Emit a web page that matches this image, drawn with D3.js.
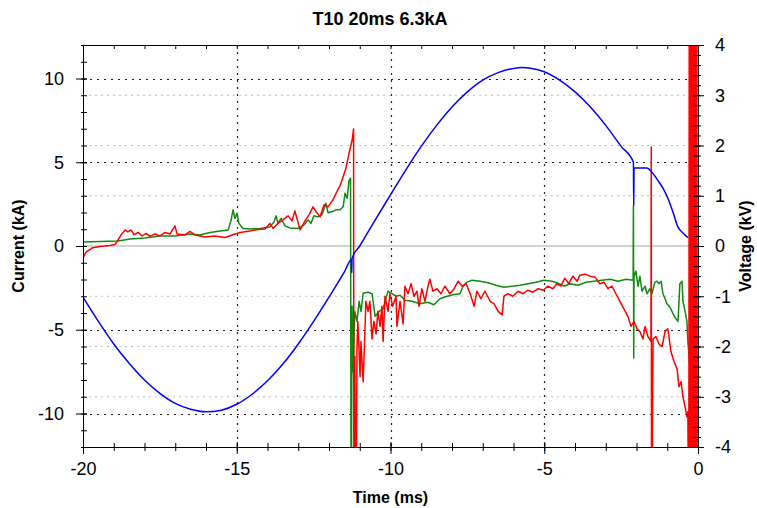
<!DOCTYPE html>
<html>
<head>
<meta charset="utf-8">
<script src="https://cdn.jsdelivr.net/npm/d3@7"></script>
<style>
  body { margin: 0; background: #fff; }
  svg { display: block; font-family: Arial, "Liberation Sans", sans-serif; }
</style>
</head>
<body>
<svg id="chart" width="757" height="508"></svg>
<script>
// tick values
const timeTicks = [-20, -15, -10, -5, 0];
const currentTicks = [-10, -5, 0, 5, 10];
const voltageTicks = [-4, -3, -2, -1, 0, 1, 2, 3, 4];

// blue trace: current (kA)
const blueTime = [-20, -19.5, -19, -18.5, -18, -17.5, -17, -16.5, -16, -15.5,
  -15, -14.5, -14, -13.5, -13, -12.5, -12, -11.5, -11.27, -11.26,
  -11.25, -11, -10.5, -10, -9.5, -9, -8.5, -8, -7.5, -7,
  -6.5, -6, -5.7, -5.5, -5, -4.5, -4, -3.5, -3, -2.5,
  -2.1, -2.09, -2.08, -1.66, -1.5, -1.3, -1.14, -0.98, -0.81, -0.65,
  -0.52, -0.33];
const blueCurrent = [-3.05, -4.5, -5.85, -7.0, -8.0, -8.8, -9.4, -9.75, -9.9, -9.8,
  -9.45, -8.85, -8.05, -7.05, -5.85, -4.5, -3.05, -1.55, -0.8, -1.6,
  -0.75, 0.0, 1.55, 3.05, 4.55, 5.95, 7.2, 8.3, 9.2, 9.9,
  10.35, 10.6, 10.65, 10.62, 10.4, 9.9, 9.2, 8.3, 7.2, 5.95,
  5.0, 2.4, 4.65, 4.65, 4.4, 3.9, 3.45, 2.85, 2.0, 1.13,
  0.83, 0.5];

// green trace: voltage (kV)
const greenTime = [-20, -19.45, -18.86, -18.47, -17.98, -17.5, -17.01, -16.52, -16.2, -15.87,
  -15.54, -15.28, -15.19, -15.12, -15.06, -14.99, -14.93, -14.8, -14.57, -14.24,
  -13.92, -13.79, -13.72, -13.66, -13.56, -13.43, -13.27, -13.01, -12.81, -12.68,
  -12.59, -12.49, -12.36, -12.23, -12.1, -12.03, -11.9, -11.77, -11.64, -11.54,
  -11.48, -11.41, -11.35, -11.3, -11.28, -11.25, -11.22, -11.16, -11.09, -11.02,
  -10.96, -10.89, -10.73, -10.6, -10.5, -10.37, -10.24, -10.15, -10.08, -9.95,
  -9.82, -9.69, -9.53, -9.3, -9.04, -8.78, -8.59, -8.39, -8.16, -7.97,
  -7.74, -7.64, -7.51, -7.35, -7.09, -6.83, -6.57, -6.31, -6.05, -5.79,
  -5.53, -5.27, -5.01, -4.75, -4.55, -4.36, -4.16, -3.9, -3.64, -3.38,
  -3.12, -2.86, -2.6, -2.34, -2.11, -2.1, -2.09, -2.08, -2.02, -1.95,
  -1.89, -1.82, -1.72, -1.66, -1.56, -1.5, -1.4, -1.33, -1.27, -1.2,
  -1.14, -1.07, -1.01, -0.91, -0.81, -0.72, -0.65, -0.59, -0.52, -0.49,
  -0.42, -0.36, -0.33, -0.26];
const greenVoltage = [0.08, 0.09, 0.1, 0.14, 0.16, 0.2, 0.2, 0.24, 0.22, 0.27,
  0.3, 0.32, 0.5, 0.72, 0.55, 0.65, 0.45, 0.35, 0.34, 0.35,
  0.38, 0.48, 0.6, 0.45, 0.55, 0.4, 0.36, 0.35, 0.42, 0.52,
  0.45, 0.6, 0.58, 0.62, 0.85, 0.66, 0.68, 0.72, 0.72, 0.78,
  1.05, 0.95, 1.3, 1.35, -6, -1.2, -2.5, -1.3, -1.5, -1.1,
  -1.3, -0.94, -0.92, -0.95, -1.4, -1.3, -1.25, -1.05, -0.9, -0.95,
  -1.0, -0.98, -1.08, -1.1, -1.15, -1.12, -1.17, -1.05, -1.0, -0.97,
  -0.95, -0.8, -0.72, -0.68, -0.7, -0.73, -0.78, -0.82, -0.8, -0.78,
  -0.75, -0.72, -0.68, -0.7, -0.74, -0.8, -0.75, -0.78, -0.72, -0.7,
  -0.68, -0.66, -0.7, -0.66, -0.68, 0.8, -2.23, -0.6, -0.5, -0.8,
  -0.6, -0.9, -0.8, -0.95, -0.85, -0.95, -0.72, -0.7, -0.75, -0.7,
  -0.95, -1.05, -1.15, -1.22, -1.35, -1.45, -1.5, -0.75, -0.7, -1.1,
  -1.3, -1.5, -1.9, -2.42];

// red trace: voltage (kV)
const redTime = [-20, -19.9, -19.71, -19.45, -19.12, -18.96, -18.86, -18.73, -18.63, -18.54,
  -18.44, -18.34, -18.21, -18.08, -17.95, -17.82, -17.66, -17.5, -17.33, -17.17,
  -17.01, -16.94, -16.68, -16.52, -16.36, -16.03, -15.71, -15.38, -15.15, -14.89,
  -14.57, -14.31, -14.08, -13.92, -13.82, -13.66, -13.5, -13.33, -13.2, -13.11,
  -12.94, -12.78, -12.65, -12.52, -12.42, -12.29, -12.16, -12.03, -11.87, -11.77,
  -11.64, -11.54, -11.45, -11.38, -11.32, -11.25, -11.2, -11.19, -11.16, -11.12,
  -11.09, -11.06, -10.99, -10.96, -10.89, -10.86, -10.8, -10.73, -10.67, -10.6,
  -10.54, -10.47, -10.41, -10.34, -10.28, -10.24, -10.18, -10.08, -10.02, -9.93,
  -9.82, -9.79, -9.69, -9.59, -9.53, -9.43, -9.33, -9.24, -9.14, -9.07,
  -8.98, -8.88, -8.78, -8.72, -8.62, -8.49, -8.36, -8.23, -8.07, -7.93,
  -7.8, -7.67, -7.54, -7.41, -7.28, -7.19, -7.06, -6.93, -6.76, -6.63,
  -6.5, -6.37, -6.31, -6.18, -6.02, -5.85, -5.69, -5.53, -5.37, -5.2,
  -5.04, -4.88, -4.72, -4.59, -4.46, -4.33, -4.2, -4.07, -3.93, -3.84,
  -3.67, -3.51, -3.35, -3.19, -3.06, -2.93, -2.8, -2.67, -2.54, -2.41,
  -2.28, -2.18, -2.08, -1.98, -1.89, -1.79, -1.72, -1.63, -1.53, -1.52,
  -1.51, -1.46, -1.37, -1.27, -1.17, -1.07, -0.98, -0.88, -0.78, -0.68,
  -0.62, -0.55, -0.49, -0.42, -0.36, -0.33, -0.3, -0.28, -0.25, -0.22,
  -0.19, -0.16, -0.13, -0.1, -0.07, -0.04, -0.02];
const redVoltage = [-0.24, -0.12, -0.04, -0.01, 0.01, 0.03, 0.12, 0.25, 0.32, 0.28,
  0.32, 0.22, 0.27, 0.2, 0.25, 0.19, 0.24, 0.2, 0.27, 0.24,
  0.4, 0.24, 0.22, 0.29, 0.22, 0.18, 0.2, 0.17, 0.22, 0.27,
  0.3, 0.33, 0.34, 0.45, 0.35, 0.45, 0.52, 0.6, 0.5, 0.7,
  0.32, 0.5, 0.62, 0.78, 0.68, 0.58, 0.82, 0.78, 0.92, 1.05,
  1.2, 1.38, 1.55, 1.75, 1.92, 2.1, 2.33, -6, -2.2, -6,
  -2.0, -1.5, -2.6, -1.9, -2.7, -2.2, -1.1, -1.3, -1.1, -1.85,
  -1.5, -1.75, -1.3, -1.6, -1.2, -1.9, -1.0, -1.3, -0.95, -1.2,
  -1.0, -1.6, -1.1, -1.55, -0.8, -0.95, -0.75, -1.0, -0.9, -1.2,
  -0.85, -1.1, -0.8, -0.66, -0.9, -0.85, -0.95, -0.8, -0.95, -0.85,
  -0.7, -0.8, -0.75, -0.95, -1.2, -0.9, -1.05, -0.9, -1.1, -1.15,
  -1.3, -1.37, -1.0, -0.95, -1.0, -0.9, -0.95, -0.88, -0.92, -0.85,
  -0.88, -0.8, -0.85, -0.75, -0.8, -0.64, -0.75, -0.6, -0.7, -0.58,
  -0.56, -0.6, -0.62, -0.75, -0.72, -0.85, -0.8, -0.95, -1.1, -1.25,
  -1.4, -1.6, -1.5, -1.65, -1.7, -1.85, -1.6, -1.8, -1.9, 1.97,
  -6, -1.85, -1.8, -1.95, -2.0, -1.7, -1.65, -2.1, -2.3, -2.45,
  -2.8, -2.7, -3.0, -3.2, -3.4, -3.3, -6, 8, -8, 8,
  -8, 8, -8, 8, -8, 8, -8];

const svg = d3.select("#chart");
const W = 757, H = 508;
const margin = { top: 45, right: 59, bottom: 61, left: 83 };
const plotW = W - margin.left - margin.right;
const plotH = H - margin.top - margin.bottom;

const x = d3.scaleLinear().domain([-20, 0]).range([margin.left, margin.left + plotW]);
const yI = d3.scaleLinear().domain([-12, 12]).range([margin.top + plotH, margin.top]);
const yV = d3.scaleLinear().domain([-4, 4]).range([margin.top + plotH, margin.top]);

// plain hyphen for negatives, like the original
const fmt = d => String(d);

svg.append("defs").append("clipPath").attr("id", "plot-clip")
  .append("rect")
  .attr("x", margin.left).attr("y", margin.top)
  .attr("width", plotW).attr("height", plotH);

// grid lines
const grid = svg.append("g");
grid.selectAll(".vgrid-light")
  .data(voltageTicks.filter(d => d !== 0 && Math.abs(d) !== 4))
  .enter().append("line")
  .attr("x1", margin.left).attr("x2", margin.left + plotW)
  .attr("y1", d => yV(d)).attr("y2", d => yV(d))
  .attr("stroke", "#bdbdbd").attr("stroke-width", 1).attr("stroke-dasharray", "2,4");

grid.selectAll(".igrid")
  .data(currentTicks.filter(d => d !== 0))
  .enter().append("line")
  .attr("x1", margin.left).attr("x2", margin.left + plotW)
  .attr("y1", d => Math.round(yI(d)) + 0.5).attr("y2", d => Math.round(yI(d)) + 0.5)
  .attr("stroke", "#222").attr("stroke-width", 1.2).attr("stroke-dasharray", "2,5");

grid.selectAll(".tgrid")
  .data(timeTicks.filter(d => d !== -20 && d !== 0))
  .enter().append("line")
  .attr("x1", d => Math.round(x(d)) + 0.5).attr("x2", d => Math.round(x(d)) + 0.5)
  .attr("y1", margin.top).attr("y2", margin.top + plotH)
  .attr("stroke", "#222").attr("stroke-width", 1.2).attr("stroke-dasharray", "2,5");

grid.append("line")
  .attr("x1", margin.left).attr("x2", margin.left + plotW)
  .attr("y1", yI(0)).attr("y2", yI(0))
  .attr("stroke", "#a8a8a8").attr("stroke-width", 1.2);

// traces
const traces = svg.append("g").attr("clip-path", "url(#plot-clip)");

function drawTrace(times, values, yScale, color, curve) {
  if (times.length !== values.length) throw new Error("length mismatch " + color);
  const pts = d3.zip(times, values);
  traces.append("path")
    .datum(pts)
    .attr("fill", "none")
    .attr("stroke", color)
    .attr("stroke-width", 1.5)
    .attr("stroke-linejoin", "round")
    .attr("d", d3.line().x(d => x(d[0])).y(d => yScale(d[1])).curve(curve));
}

drawTrace(greenTime, greenVoltage, yV, "#108a10", d3.curveLinear);
drawTrace(redTime, redVoltage, yV, "#ff0000", d3.curveLinear);
drawTrace(blueTime, blueCurrent, yI, "#0000ff", d3.curveMonotoneX);

// axes
function styleAxis(g) {
  g.attr("font-size", 18).attr("font-family", "Arial, 'Liberation Sans', sans-serif");
  g.selectAll("text").attr("fill", "#000");
  g.selectAll("line, path").attr("stroke", "#000");
}

// left (current)
const leftAxis = svg.append("g").attr("transform", `translate(${margin.left},0)`)
  .call(d3.axisLeft(yI).tickValues(currentTicks).tickSize(7).tickSizeOuter(0).tickPadding(12).tickFormat(fmt))
  .call(styleAxis);
leftAxis.selectAll(".tick line").attr("x1", 4);
svg.append("g").attr("transform", `translate(${margin.left},0)`)
  .call(d3.axisLeft(yI).tickValues(d3.range(-12, 13, 1)).tickSize(2).tickSizeOuter(0).tickFormat(""))
  .call(styleAxis)
  .call(g => g.select(".domain").remove())
  .selectAll(".tick line").attr("x1", 4);

// right (voltage)
const rightAxis = svg.append("g").attr("transform", `translate(${margin.left + plotW},0)`)
  .call(d3.axisRight(yV).tickValues(voltageTicks).tickSize(6).tickSizeOuter(0).tickPadding(11).tickFormat(fmt))
  .call(styleAxis);
rightAxis.selectAll(".tick line").attr("x1", -5);
svg.append("g").attr("transform", `translate(${margin.left + plotW},0)`)
  .call(d3.axisRight(yV).tickValues(d3.range(-20, 21, 1).map(d => d / 5)).tickSize(3).tickSizeOuter(0).tickFormat(""))
  .call(styleAxis)
  .call(g => g.select(".domain").remove())
  .selectAll(".tick line").attr("x1", -5);

// bottom (time)
const bottomAxis = svg.append("g").attr("transform", `translate(0,${margin.top + plotH})`)
  .call(d3.axisBottom(x).tickValues(timeTicks).tickSize(7).tickSizeOuter(0).tickPadding(8).tickFormat(fmt))
  .call(styleAxis);
bottomAxis.selectAll(".tick line").attr("y1", -5);
svg.append("g").attr("transform", `translate(0,${margin.top + plotH})`)
  .call(d3.axisBottom(x).tickValues(d3.range(-20, 1, 1)).tickSize(4).tickSizeOuter(0).tickFormat(""))
  .call(styleAxis)
  .call(g => g.select(".domain").remove())
  .selectAll(".tick line").attr("y1", -4);

// top border with small ticks
svg.append("g").attr("transform", `translate(0,${margin.top})`)
  .call(d3.axisTop(x).tickValues(d3.range(-20, 1, 1)).tickSize(-4).tickSizeOuter(0).tickFormat(""))
  .call(styleAxis);

// titles
svg.append("text")
  .attr("x", 380).attr("y", 25)
  .attr("text-anchor", "middle")
  .attr("font-size", 18).attr("font-weight", "bold")
  .text("T10 20ms 6.3kA");

svg.append("text")
  .attr("x", (margin.left + margin.left + plotW) / 2).attr("y", 503)
  .attr("text-anchor", "middle")
  .attr("font-size", 16).attr("font-weight", "bold")
  .text("Time (ms)");

svg.append("text")
  .attr("transform", `translate(24,${yI(0)}) rotate(-90)`)
  .attr("text-anchor", "middle")
  .attr("font-size", 16).attr("font-weight", "bold")
  .text("Current (kA)");

svg.append("text")
  .attr("transform", `translate(751,${yV(0)}) rotate(-90)`)
  .attr("text-anchor", "middle")
  .attr("font-size", 16).attr("font-weight", "bold")
  .text("Voltage (kV)");
</script>
</body>
</html>
